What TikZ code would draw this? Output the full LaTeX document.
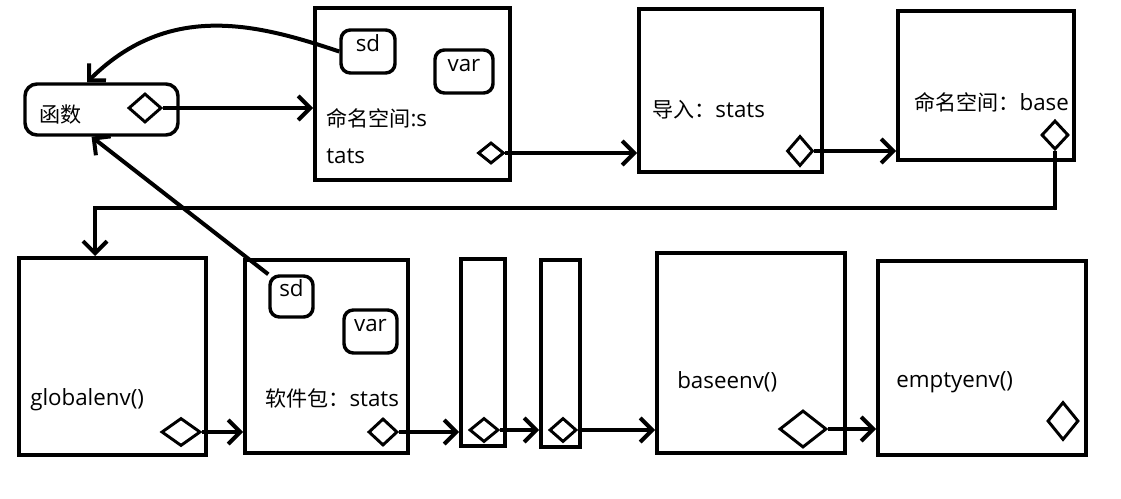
\documentclass[tikz,border=0pt]{standalone}
\usepackage{fontspec}
\setmainfont{Open Sans}[Scale=1.06]
\newfontfamily\cjk{Noto Sans CJK SC}
\usetikzlibrary{shapes.geometric,arrows.meta,fit}
\tikzset{
    envbox/.style={draw, line width=3pt, inner sep=0pt},
    membox/.style={draw, line width=2.6pt, rounded corners=7pt, inner sep=0pt,
        font=\fontsize{15.8}{19}\selectfont},
    port/.style={draw, diamond, line width=2.2pt, inner sep=0pt},
    lbl/.style={anchor=west, inner sep=0pt, font=\fontsize{15.8}{19}\selectfont},
    conn/.style={line width=3pt, -{Straight Barb[length=9pt,width=18pt]}},
}
\begin{document}
\begin{tikzpicture}[x=0.75pt, y=-0.75pt]
    \useasboundingbox (0,0) rectangle (1121,499);

    % 上排：函数与命名空间
    \node[membox, rounded corners=9pt, fit={(25,84) (178,135)}] (fn) {};
    \node[lbl] (fnlbl) at (39,115) {\cjk 函数};
    \node[port, minimum width=24.8pt, minimum height=21.8pt] (fd) at (145,108) {};

    \node[envbox, fit={(315,8) (510,180)}] (nss) {};
    \node[membox, fit={(341,30) (395,73)}] (sd1) {sd};
    \node[membox, fit={(435,50) (493,93)}] (var1) {var};
    \node[lbl] (nsslbl) at (326,118) {{\cjk 命名空间}:s};
    \node[lbl] (nsslbl2) at (326,156) {tats};
    \node[port, minimum width=19.5pt, minimum height=15.8pt] (nssd) at (491,153) {};

    \node[envbox, fit={(639,9) (822,172)}] (imp) {};
    \node[lbl] (implbl) at (652,110) {{\cjk 导入：}stats};
    \node[port, minimum width=19.5pt, minimum height=22.5pt] (impd) at (800,151) {};

    \node[envbox, fit={(898,11) (1074,160)}] (bns) {};
    \node[lbl] (bnslbl) at (914,102) {{\cjk 命名空间：}base};
    \node[port, minimum width=20.3pt, minimum height=21.8pt] (based) at (1055,135) {};

    % 下排：环境链
    \node[envbox, fit={(19,258) (206,455)}] (glob) {};
    \node[lbl] (globlbl) at (30,400) {globalenv()};
    \node[port, minimum width=29.3pt, minimum height=21pt] (globd) at (181,432) {};

    \node[envbox, fit={(245,260) (408,453)}] (pkg) {};
    \node[membox, fit={(270,276) (313,317)}] (sd2) {sd};
    \node[membox, fit={(344,310) (397,353)}] (var2) {var};
    \node[lbl] (pkglbl) at (265,398) {{\cjk 软件包：}stats};
    \node[port, minimum width=21.8pt, minimum height=20.3pt] (pkgd) at (383,432) {};

    \node[envbox, fit={(461,259) (505,446)}] (nar1) {};
    \node[port, minimum width=21.8pt, minimum height=18pt] (nar1d) at (484,430) {};
    \node[envbox, fit={(541,260) (580,447)}] (nar2) {};
    \node[port, minimum width=20.3pt, minimum height=18pt] (nar2d) at (563,430) {};

    \node[envbox, fit={(657,253) (845,453)}] (benv) {};
    \node[lbl] (benvlbl) at (677,382) {baseenv()};
    \node[port, minimum width=35.3pt, minimum height=27.8pt] (benvd) at (803,429) {};

    \node[envbox, fit={(878,261) (1086,455)}] (eenv) {};
    \node[lbl] (eenvlbl) at (896,382) {emptyenv()};
    \node[port, minimum width=23.3pt, minimum height=28.5pt] (eenvd) at (1063,421) {};

    % 连线
    \draw[conn] (fd.east) -- (fd.east -| nss.west);
    \draw[conn] (nssd.east) -- (nssd.east -| imp.west);
    \draw[conn] (impd.east) -- (impd.east -| bns.west);
    \coordinate (bend) at (95,208);
    \draw[conn] (based.south) |- (bend) -- (bend |- glob.north);
    \draw[conn] (globd.east) -- (globd.east -| pkg.west);
    \draw[conn] (pkgd.east) -- (pkgd.east -| nar1.west);
    \draw[conn] (nar1d.east) -- (nar1d.east -| nar2.west);
    \draw[conn] (nar2d.east) -- (nar2d.east -| benv.west);
    \draw[conn] (benvd.east) -- (benvd.east -| eenv.west);

    % sd 指回函数
    \draw[conn] (sd1.west) .. controls (260,25) and (170,0) .. (fn.118);
    \draw[conn] (sd2.north west) -- (fn.250);
\end{tikzpicture}
\end{document}
